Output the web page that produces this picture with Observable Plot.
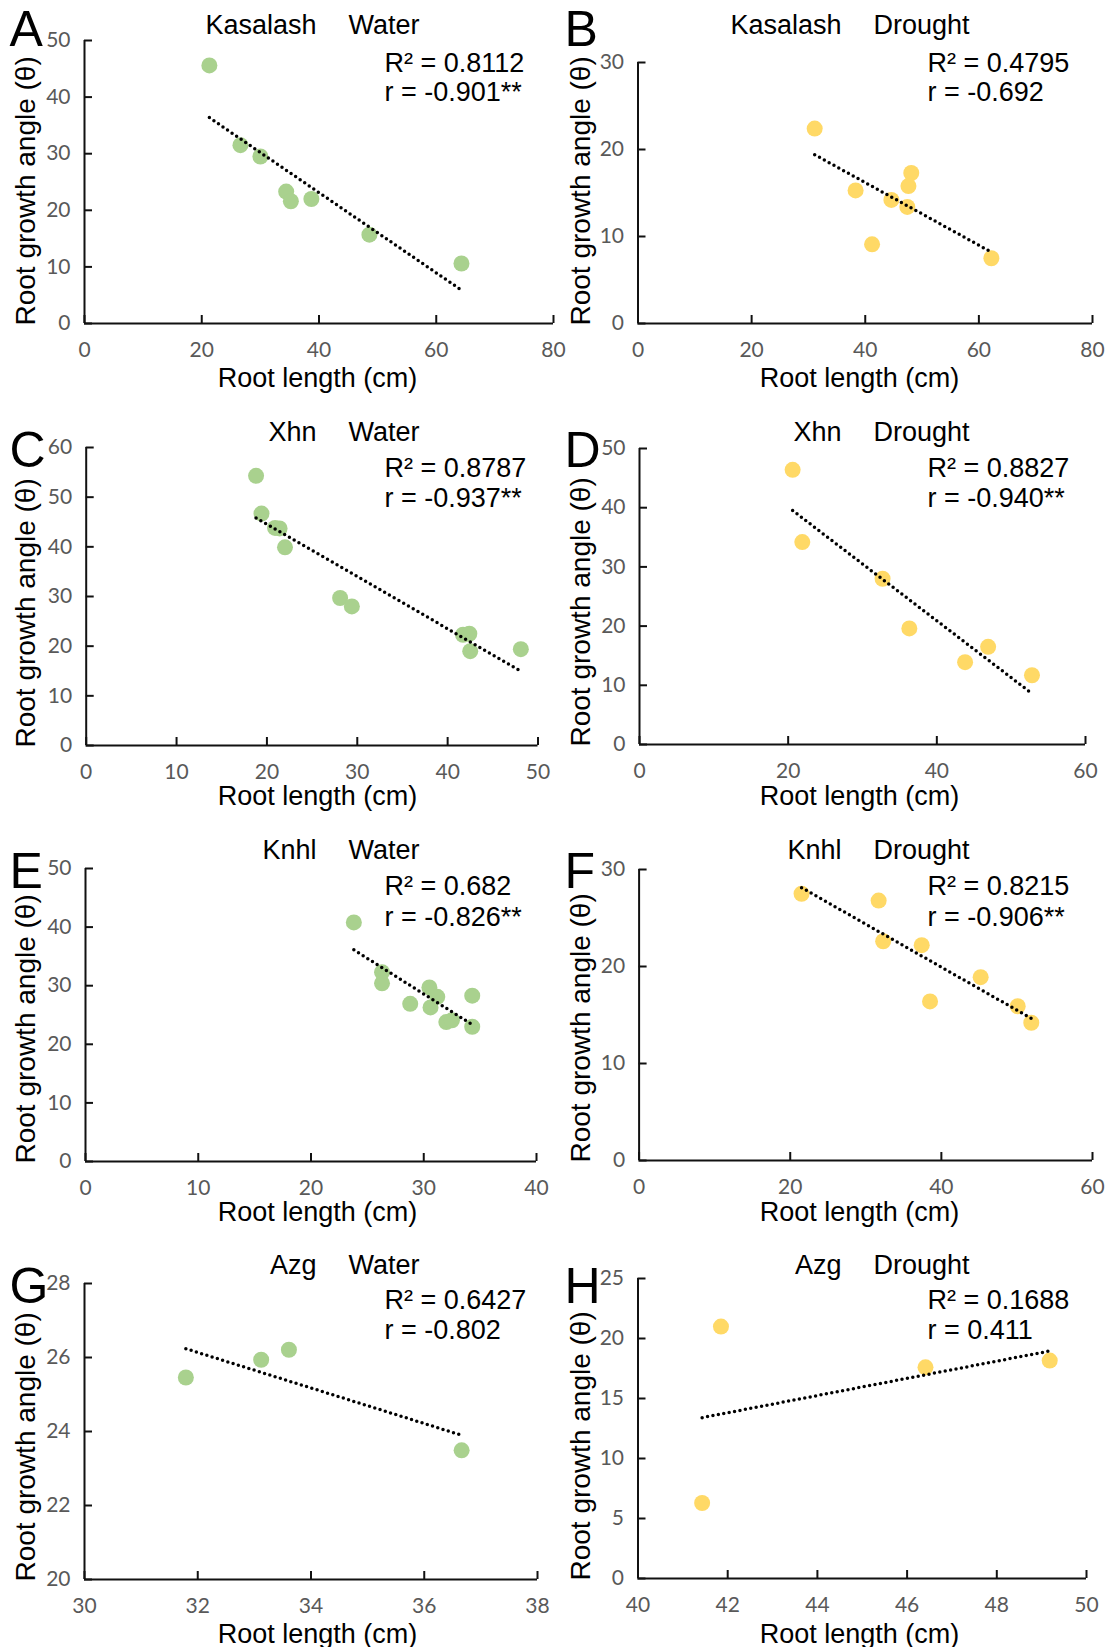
<!DOCTYPE html>
<html>
<head>
<meta charset="utf-8">
<script src="https://cdn.jsdelivr.net/npm/d3@7"></script>
<script src="https://cdn.jsdelivr.net/npm/@observablehq/plot@0.6"></script>
<style>
  body { margin: 0; background: #fff; }
  #chart { position: relative; width: 1110px; height: 1647px; overflow: hidden; background: #fff; }
  .cell { position: absolute; }
  .cell svg { overflow: visible; background: transparent; }
</style>
</head>
<body>
<div id="chart"></div>
<script>
// ---------------- DATA ----------------
const letters = ["A", "B", "C", "D", "E", "F", "G", "H"];
const cultivars = ["Kasalash", "Kasalash", "Xhn", "Xhn", "Knhl", "Knhl", "Azg", "Azg"];
const treatments = ["Water", "Drought", "Water", "Drought", "Water", "Drought", "Water", "Drought"];
const r2Text = ["R² = 0.8112", "R² = 0.4795", "R² = 0.8787", "R² = 0.8827", "R² = 0.682", "R² = 0.8215", "R² = 0.6427", "R² = 0.1688"];
const rText = ["r = -0.901**", "r = -0.692", "r = -0.937**", "r = -0.940**", "r = -0.826**", "r = -0.906**", "r = -0.802", "r = 0.411"];
const xTitle = "Root length (cm)";
const yTitle = "Root growth angle (θ)";

// A: Kasalash, Water
const kasalashWaterLength = [21.3, 26.6, 30.0, 34.4, 35.2, 38.7, 48.6, 64.3];
const kasalashWaterAngle  = [45.6, 31.5, 29.5, 23.3, 21.6, 22.0, 15.7, 10.6];
// B: Kasalash, Drought
const kasalashDroughtLength = [31.1, 38.3, 44.6, 48.1, 47.6, 47.4, 41.2, 62.2];
const kasalashDroughtAngle  = [22.4, 15.3, 14.2, 17.3, 15.8, 13.4, 9.1, 7.5];
// C: Xhn, Water
const xhnWaterLength = [18.8, 19.4, 20.9, 21.4, 22.0, 28.1, 29.4, 41.7, 42.4, 42.5, 48.1];
const xhnWaterAngle  = [54.3, 46.7, 43.8, 43.7, 39.9, 29.7, 28.0, 22.3, 22.5, 19.0, 19.4];
// D: Xhn, Drought
const xhnDroughtLength = [20.6, 21.9, 32.7, 36.3, 43.8, 46.9, 52.8];
const xhnDroughtAngle  = [46.4, 34.2, 28.0, 19.6, 13.9, 16.5, 11.7];
// E: Knhl, Water
const knhlWaterLength = [23.8, 26.3, 26.3, 28.8, 30.5, 31.2, 30.6, 32.0, 32.5, 34.3, 34.3];
const knhlWaterAngle  = [40.8, 32.3, 30.4, 26.9, 29.7, 28.1, 26.3, 23.8, 24.1, 28.3, 23.0];
// F: Knhl, Drought
const knhlDroughtLength = [21.5, 31.7, 32.3, 37.4, 38.5, 45.2, 50.1, 51.9];
const knhlDroughtAngle  = [27.5, 26.8, 22.6, 22.2, 16.4, 18.9, 15.9, 14.2];
// G: Azg, Water
const azgWaterLength = [31.79, 33.12, 33.61, 36.66];
const azgWaterAngle  = [25.46, 25.94, 26.21, 23.49];
// H: Azg, Drought
const azgDroughtLength = [41.43, 41.85, 46.41, 49.18];
const azgDroughtAngle  = [6.29, 20.99, 17.6, 18.16];

// tick labels
const xTicksA = [0, 20, 40, 60, 80];      const yTicksA = [0, 10, 20, 30, 40, 50];
const xTicksB = [0, 20, 40, 60, 80];      const yTicksB = [0, 10, 20, 30];
const xTicksC = [0, 10, 20, 30, 40, 50];  const yTicksC = [0, 10, 20, 30, 40, 50, 60];
const xTicksD = [0, 20, 40, 60];          const yTicksD = [0, 10, 20, 30, 40, 50];
const xTicksE = [0, 10, 20, 30, 40];      const yTicksE = [0, 10, 20, 30, 40, 50];
const xTicksF = [0, 20, 40, 60];          const yTicksF = [0, 10, 20, 30];
const xTicksG = [30, 32, 34, 36, 38];     const yTicksG = [20, 22, 24, 26, 28];
const xTicksH = [40, 42, 44, 46, 48, 50]; const yTicksH = [0, 5, 10, 15, 20, 25];

// ---------------- STYLE / LAYOUT ----------------
const waterColor = "#a9d18e";
const droughtColor = "#ffd966";
const SANS = "'Liberation Sans', Arial, sans-serif";
const TICKFONT = "Lato, 'Open Sans', sans-serif";

const cellW = 555;
const rowTop = [0, 400, 820, 1240];
const rowH = [400, 420, 420, 407];
// plot frames in page coordinates [x0, x1, y0, y1]
const frames = [
  [84, 553, 40, 323], [637.5, 1092, 62, 323],
  [85.7, 537.5, 447, 745], [639, 1085, 448, 744],
  [85, 536, 868, 1161], [638.6, 1092, 869, 1160],
  [84, 537, 1283, 1579], [637.5, 1086, 1278, 1578]
];
const letterX = [9, 564], cultivarEndX = [316, 841], treatmentX = [348, 873], statX = [384, 927];
const yTitleX = [26, 581], xTitleX = [317, 859];
const letterBase = [45, 466, 887, 1302], titleBase = [33, 440, 858, 1273];
const r2Base = [71, 476, 894, 1308], rBase = [100, 506, 925, 1338], xTitleBase = [386, 804, 1220, 1642];

const panels = [
  {x: kasalashWaterLength, y: kasalashWaterAngle, xt: xTicksA, yt: yTicksA, color: waterColor},
  {x: kasalashDroughtLength, y: kasalashDroughtAngle, xt: xTicksB, yt: yTicksB, color: droughtColor},
  {x: xhnWaterLength, y: xhnWaterAngle, xt: xTicksC, yt: yTicksC, color: waterColor},
  {x: xhnDroughtLength, y: xhnDroughtAngle, xt: xTicksD, yt: yTicksD, color: droughtColor},
  {x: knhlWaterLength, y: knhlWaterAngle, xt: xTicksE, yt: yTicksE, color: waterColor},
  {x: knhlDroughtLength, y: knhlDroughtAngle, xt: xTicksF, yt: yTicksF, color: droughtColor},
  {x: azgWaterLength, y: azgWaterAngle, xt: xTicksG, yt: yTicksG, color: waterColor},
  {x: azgDroughtLength, y: azgDroughtAngle, xt: xTicksH, yt: yTicksH, color: droughtColor}
];

const chart = document.getElementById("chart");

panels.forEach((p, i) => {
  const col = i % 2, row = Math.floor(i / 2);
  const left = col * cellW, top = rowTop[row], h = rowH[row];
  const [fx0, fx1, fy0, fy1] = frames[i];
  const mL = fx0 - left, mR = left + cellW - fx1, mT = fy0 - top, mB = top + h - fy1;
  const fw = fx1 - fx0, fh = fy1 - fy0;
  const data = p.x.map((x, j) => ({x, y: p.y[j]}));
  const T = (txt, X, Y, opts) => Plot.text([txt], {
    frameAnchor: "top-left", text: d => d, dx: X - fx0, dy: Y - fy0,
    lineAnchor: "bottom", fontFamily: SANS, fontSize: 27, fill: "#000", ...opts
  });
  const tickStyle = {fontFamily: TICKFONT, fontSize: 21, fill: "#595959", tickSize: 0, label: null, tickFormat: d => String(d)};

  const svg = Plot.plot({
    width: cellW, height: h,
    marginLeft: mL, marginRight: mR, marginTop: mT, marginBottom: mB,
    style: {background: "transparent", overflow: "visible"},
    x: {domain: [p.xt[0], p.xt[p.xt.length - 1]]},
    y: {domain: [p.yt[0], p.yt[p.yt.length - 1]]},
    marks: [
      Plot.axisX({...tickStyle, ticks: p.xt, tickPadding: 19}),
      Plot.axisY({...tickStyle, ticks: p.yt, tickPadding: 14}),
      Plot.tickX(p.xt, {x: d => d, insetTop: fh - 8, stroke: "#111", strokeWidth: 2}),
      Plot.tickY(p.yt, {y: d => d, insetRight: fw - 8, stroke: "#111", strokeWidth: 2}),
      Plot.ruleX([p.xt[0]], {stroke: "#111", strokeWidth: 2}),
      Plot.ruleY([p.yt[0]], {stroke: "#111", strokeWidth: 2}),
      Plot.dot(data, {x: "x", y: "y", r: 8, fill: p.color, stroke: "none"}),
      Plot.linearRegressionY(data, {x: "x", y: "y", ci: 0, stroke: "#000", strokeWidth: 3.5,
        strokeDasharray: "0 5.5", strokeLinecap: "round"}),
      T(letters[i], letterX[col], letterBase[row], {fontSize: 50}),
      T(cultivars[i], cultivarEndX[col], titleBase[row], {textAnchor: "end"}),
      T(treatments[i], treatmentX[col], titleBase[row], {textAnchor: "start"}),
      T(r2Text[i], statX[col], r2Base[row], {textAnchor: "start"}),
      T(rText[i], statX[col], rBase[row], {textAnchor: "start"}),
      T(xTitle, xTitleX[col], xTitleBase[row], {textAnchor: "middle"}),
      T(yTitle, yTitleX[col], fy1 + 2, {textAnchor: "start", lineAnchor: "middle", rotate: -90, fontSize: 28})
    ]
  });
  const div = document.createElement("div");
  div.className = "cell";
  div.style.left = left + "px";
  div.style.top = top + "px";
  div.append(svg);
  chart.append(div);
});
</script>
</body>
</html>
